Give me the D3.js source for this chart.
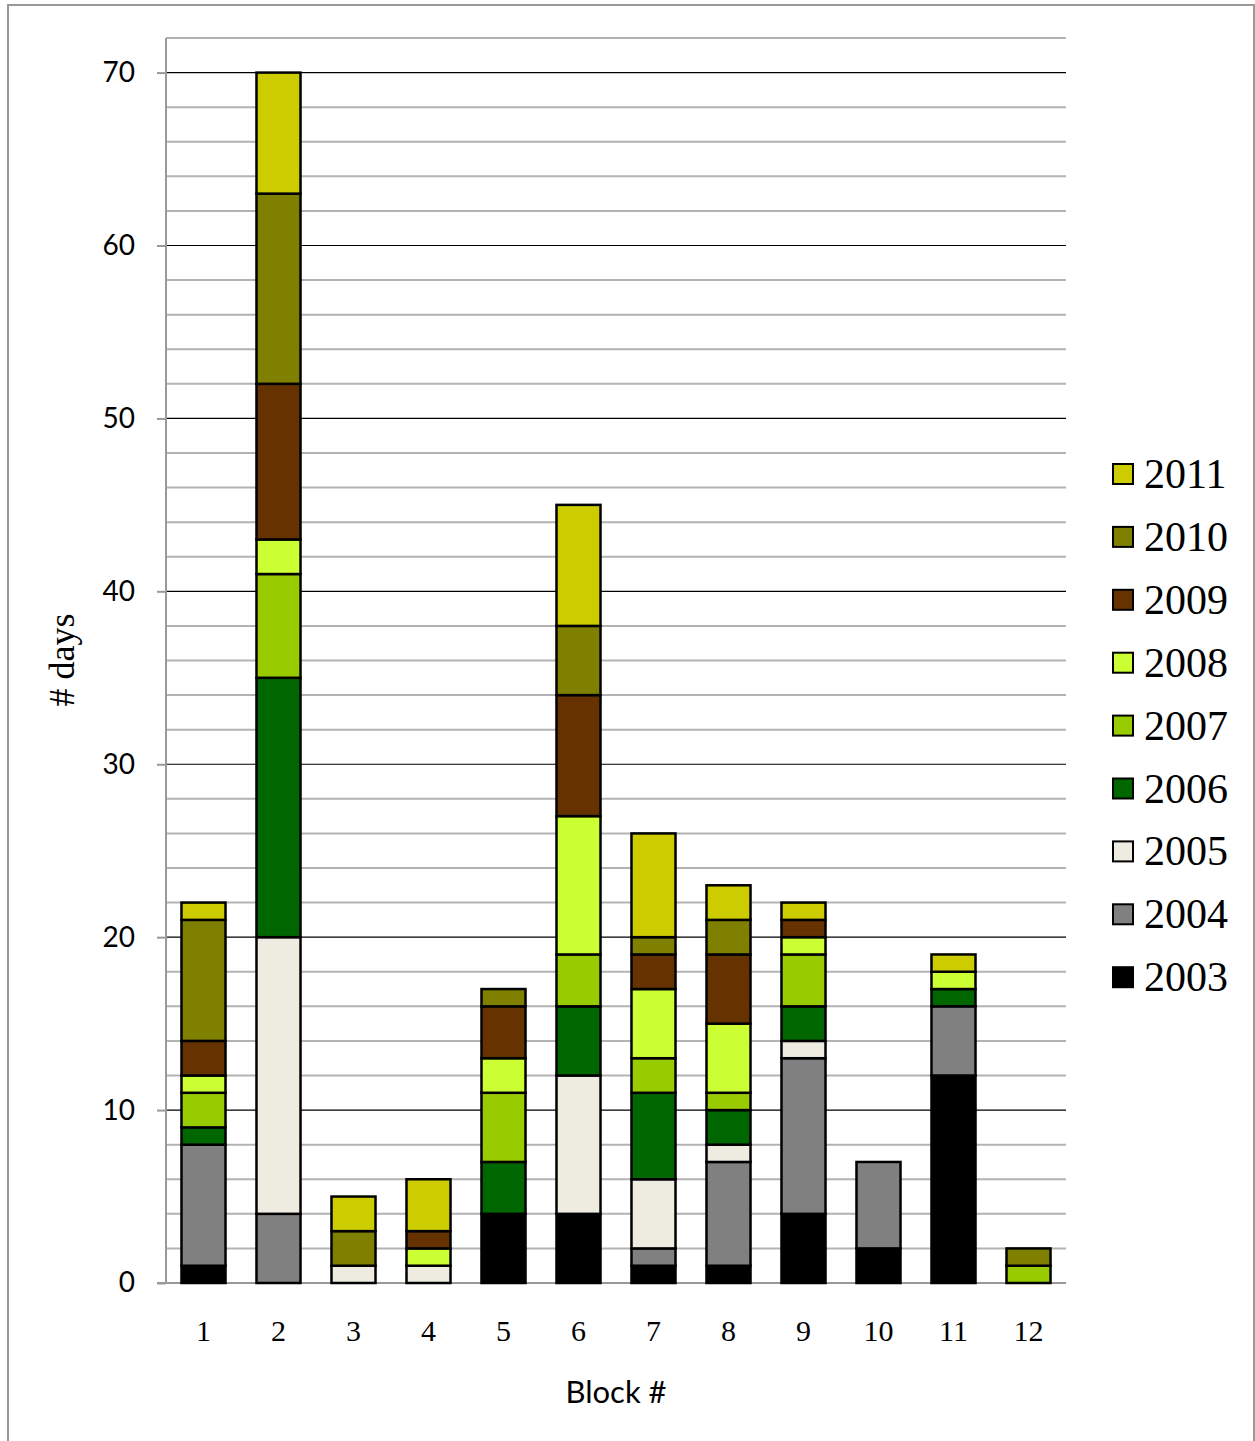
<!DOCTYPE html>
<html>
<head>
<meta charset="utf-8">
<script src="https://cdn.jsdelivr.net/npm/d3@7"></script>
<style>
  html, body { margin: 0; padding: 0; background: #fff; }
  svg { display: block; }
</style>
</head>
<body>
<svg id="chart" width="1255" height="1441"></svg>
<script>
'use strict';

var BLOCKS = ['1', '2', '3', '4', '5', '6', '7', '8', '9', '10', '11', '12'];
var YEARS = ['2003', '2004', '2005', '2006', '2007', '2008', '2009', '2010', '2011'];
var COLORS = ['#000000', '#808080', '#eeece1', '#006600', '#99cc00', '#ccff33', '#663300', '#808000', '#cccc00'];

// days per year, one value per block
var Y2003 = [1, 0, 0, 0, 4, 4, 1, 1, 4, 2, 12, 0];
var Y2004 = [7, 4, 0, 0, 0, 0, 1, 6, 9, 5, 4, 0];
var Y2005 = [0, 16, 1, 1, 0, 8, 4, 1, 1, 0, 0, 0];
var Y2006 = [1, 15, 0, 0, 3, 4, 5, 2, 2, 0, 1, 0];
var Y2007 = [2, 6, 0, 0, 4, 3, 2, 1, 3, 0, 0, 1];
var Y2008 = [1, 2, 0, 1, 2, 8, 4, 4, 1, 0, 1, 0];
var Y2009 = [2, 9, 0, 1, 3, 7, 2, 4, 1, 0, 0, 0];
var Y2010 = [7, 11, 2, 0, 1, 4, 1, 2, 0, 0, 0, 1];
var Y2011 = [1, 7, 2, 3, 0, 7, 6, 2, 1, 0, 1, 0];
var SERIES = [Y2003, Y2004, Y2005, Y2006, Y2007, Y2008, Y2009, Y2010, Y2011];

var Y_TICKS = [0, 10, 20, 30, 40, 50, 60, 70];

var SANS = 'Lato, "Open Sans", "Liberation Sans", sans-serif';
var SERIF = '"Liberation Serif", "DejaVu Serif", serif';

(function draw() {
  var svg = d3.select('#chart');
  var left = 166, right = 1066, top = 38, bottom = 1283;

  var rows = BLOCKS.map(function (b, i) {
    var r = { block: b };
    YEARS.forEach(function (y, j) { r[y] = SERIES[j][i]; });
    return r;
  });

  var x = d3.scaleBand().domain(BLOCKS).range([left, right]).paddingInner(0.413).paddingOuter(0.2065);
  var y = d3.scaleLinear().domain([0, 72]).range([bottom, top]);
  var color = d3.scaleOrdinal().domain(YEARS).range(COLORS);

  // outer frame
  svg.append('rect')
    .attr('x', 8).attr('y', 5).attr('width', 1246).attr('height', 1450)
    .style('fill', 'none').style('stroke', '#999').style('stroke-width', 2);

  // minor grid
  svg.append('g').selectAll('line')
    .data(d3.range(2, 73, 2).filter(function (v) { return v % 10 !== 0; }))
    .join('line')
    .attr('x1', left).attr('x2', right)
    .attr('y1', function (d) { return y(d); }).attr('y2', function (d) { return y(d); })
    .style('stroke', '#b3b3b3').style('stroke-width', 2);

  // major grid
  svg.append('g').selectAll('line')
    .data(Y_TICKS.filter(function (v) { return v > 0; }))
    .join('line')
    .attr('x1', left).attr('x2', right)
    .attr('y1', function (d) { return y(d); }).attr('y2', function (d) { return y(d); })
    .style('stroke', '#000').style('stroke-width', 1.2);

  // y axis
  var yAxis = svg.append('g')
    .attr('transform', 'translate(' + left + ',0)')
    .call(d3.axisLeft(y).tickValues(Y_TICKS).tickSize(9).tickPadding(22).tickFormat(d3.format('d')));
  yAxis.select('.domain').remove();
  yAxis.selectAll('line').style('stroke', '#999').style('stroke-width', 2);
  yAxis.selectAll('text')
    .style('font-family', SANS)
    .style('font-size', '28px').style('fill', '#000');
  svg.append('line')
    .attr('x1', left).attr('x2', left).attr('y1', top).attr('y2', bottom)
    .style('stroke', '#999').style('stroke-width', 2);

  // x baseline
  svg.append('line')
    .attr('x1', left - 9).attr('x2', right).attr('y1', bottom).attr('y2', bottom)
    .style('stroke', '#999').style('stroke-width', 2);

  // stacked bars
  var stacked = d3.stack().keys(YEARS)(rows);
  var layer = svg.append('g').selectAll('g')
    .data(stacked)
    .join('g')
    .style('fill', function (d) { return color(d.key); });
  layer.selectAll('rect')
    .data(function (d) { return d.filter(function (p) { return p[1] > p[0]; }); })
    .join('rect')
    .attr('x', function (d) { return x(d.data.block); })
    .attr('width', x.bandwidth())
    .attr('y', function (d) { return y(d[1]); })
    .attr('height', function (d) { return y(d[0]) - y(d[1]); })
    .style('stroke', '#000').style('stroke-width', 2.5);

  // x labels
  svg.append('g').selectAll('text')
    .data(BLOCKS)
    .join('text')
    .attr('x', function (d) { return x(d) + x.bandwidth() / 2; })
    .attr('y', 1341)
    .attr('text-anchor', 'middle')
    .style('font-family', SERIF)
    .style('font-size', '30px')
    .text(function (d) { return d; });

  // axis titles
  svg.append('text')
    .attr('x', 616).attr('y', 1403)
    .attr('text-anchor', 'middle')
    .style('font-family', SANS)
    .style('font-size', '31px')
    .text('Block #');
  svg.append('text')
    .attr('transform', 'translate(74,660) rotate(-90)')
    .attr('text-anchor', 'middle')
    .style('font-family', SERIF)
    .style('font-size', '36px')
    .text('# days');

  // legend, 2011 on top
  var legendYears = YEARS.slice().reverse();
  var legend = svg.append('g').selectAll('g')
    .data(legendYears)
    .join('g')
    .attr('transform', function (d, i) { return 'translate(1113,' + (464 + i * 62.9) + ')'; });
  legend.append('rect')
    .attr('width', 20).attr('height', 20)
    .style('fill', function (d) { return color(d); })
    .style('stroke', '#000').style('stroke-width', 2);
  legend.append('text')
    .attr('x', 31).attr('y', 24)
    .style('font-family', SERIF)
    .style('font-size', '42px')
    .text(function (d) { return d; });
}());
</script>
</body>
</html>
